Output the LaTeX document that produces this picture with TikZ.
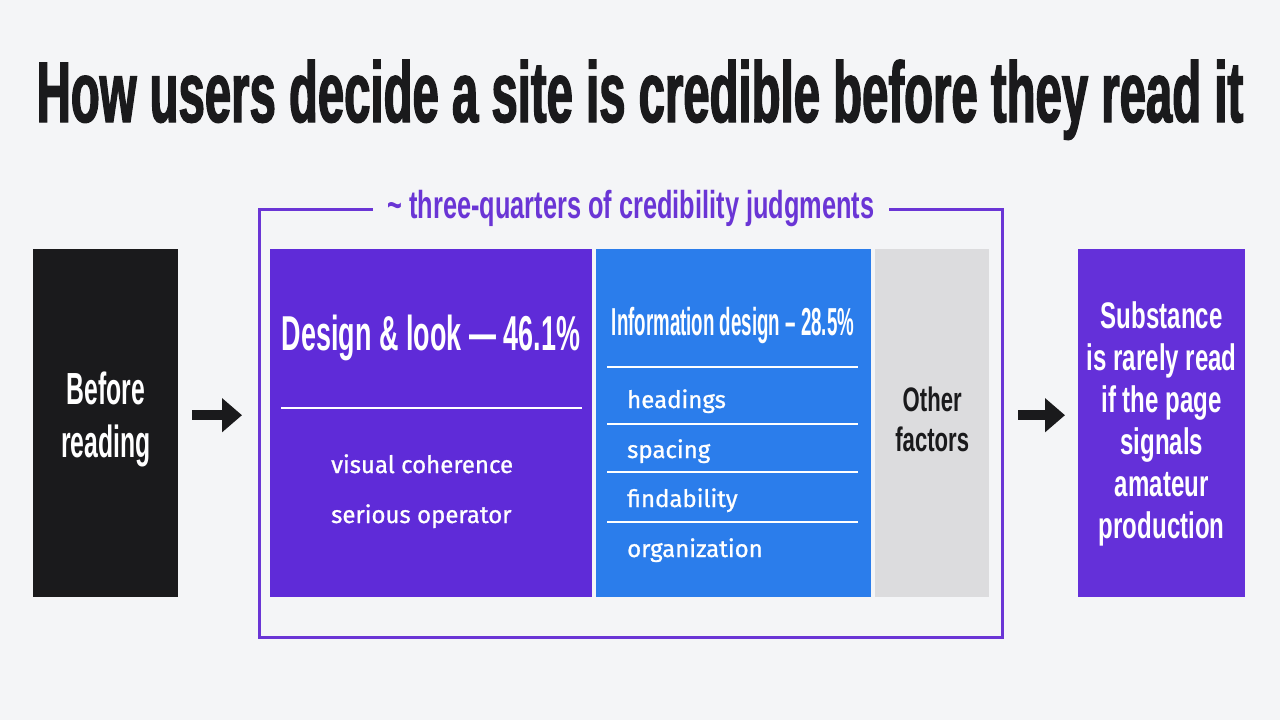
\documentclass[tikz,border=0pt]{standalone}
\usepackage{fontspec}
\usetikzlibrary{arrows.meta,positioning}

\newfontfamily\titlefont[FakeStretch=0.55,FakeBold=1.5]{Liberation Sans Bold}
\newfontfamily\condfont[FakeStretch=0.55]{Liberation Sans Bold}
\newfontfamily\narrowfont[FakeStretch=0.48]{Liberation Sans Bold}
\newfontfamily\sidefont[FakeStretch=0.65]{Liberation Sans Bold}
\newfontfamily\itemfont[FakeBold=1]{Fira Sans}

\definecolor{bgc}{HTML}{F4F5F7}
\definecolor{inkc}{HTML}{1A1A1C}
\definecolor{violetc}{HTML}{5F2BD8}
\definecolor{sidec}{HTML}{6430D9}
\definecolor{bluec}{HTML}{2B7DEB}
\definecolor{grayc}{HTML}{DCDCDE}
\definecolor{framec}{HTML}{6A35D5}

\tikzset{
  panel/.style={anchor=north west, inner sep=0pt, minimum height=348pt},
  bigtxt/.style={align=center, inner sep=0pt, text=white},
  item/.style={anchor=base west, inner sep=0pt, text=white,
    font=\itemfont\fontsize{24}{28}\selectfont},
  rule/.style={white, line width=2pt},
  bigarrow/.style={draw=inkc, line width=10pt,
    -{Triangle[length=20pt,width=33pt]}}
}

\begin{document}
\begin{tikzpicture}[x=1pt,y=-1pt]
    \fill[bgc] (0,0) rectangle (1280,720);

    % title
    \node[anchor=base, inner sep=0pt, text=inkc,
      font=\titlefont\fontsize{86}{90}\selectfont] (title) at (640,122)
      {How users decide a site is credible before they read it};

    % boxes
    \node[panel, fill=inkc, minimum width=145pt] (before) at (33,249) {};
    \node[draw=framec, line width=3pt, anchor=north west, inner sep=0pt,
      minimum width=743pt, minimum height=428pt] (frame) at (258,208) {};
    \node[panel, fill=violetc, minimum width=322pt] (design) at (270,249) {};
    \node[panel, fill=bluec, minimum width=275pt] (info) at (596,249) {};
    \node[panel, fill=grayc, minimum width=114pt] (other) at (875,249) {};
    \node[panel, fill=sidec, minimum width=167pt] (result) at (1078,249) {};

    % frame label
    \node[fill=bgc, inner xsep=15pt, inner ysep=4pt, text=framec,
      font=\sidefont\fontsize{39}{42}\selectfont] (share) at (frame.north)
      {\textasciitilde{} three-quarters of credibility judgments};

    % texts
    \node[bigtxt, font=\condfont\fontsize{45}{53}\selectfont]
      (before-txt) at ([yshift=4pt]before.center) {Before\\reading};
    \node[bigtxt, anchor=base, font=\condfont\fontsize{49}{54}\selectfont]
      (design-title) at (431,350) {Design \& look — 46.1\%};
    \node[bigtxt, anchor=base, font=\narrowfont\fontsize{39}{44}\selectfont]
      (info-title) at (733,335) {Information design – 28.5\%};
    \node[bigtxt, text=inkc, font=\sidefont\fontsize{34}{40}\selectfont]
      (other-txt) at ([yshift=4pt]other.center) {Other\\factors};
    \node[bigtxt, font=\sidefont\fontsize{37}{42}\selectfont]
      (result-txt) at ([yshift=-1pt]result.center)
      {Substance\\is rarely read\\if the page\\signals\\amateur\\production};

    \node[item] (design-1) at (331,473) {visual coherence};
    \node[item] (design-2) at (331,523) {serious operator};
    \foreach \txt/\yb [count=\i] in {headings/408, spacing/458,
      findability/507, organization/557}
      \node[item] (info-\i) at (627,\yb) {\txt};

    % rules
    \draw[rule] (281,408) -- (582,408);
    \foreach \yr in {367,424,472,522}
      \draw[rule] (607,\yr) -- (858,\yr);

    % arrows
    \draw[bigarrow, shorten <=14pt, shorten >=16pt]
      ([yshift=8pt]before.east) -- ([yshift=8pt]before.east -| frame.west);
    \draw[bigarrow, shorten <=14pt, shorten >=13pt]
      ([yshift=8pt]before.east -| frame.east) -- ([yshift=8pt]before.east -| result.west);
\end{tikzpicture}
\end{document}
